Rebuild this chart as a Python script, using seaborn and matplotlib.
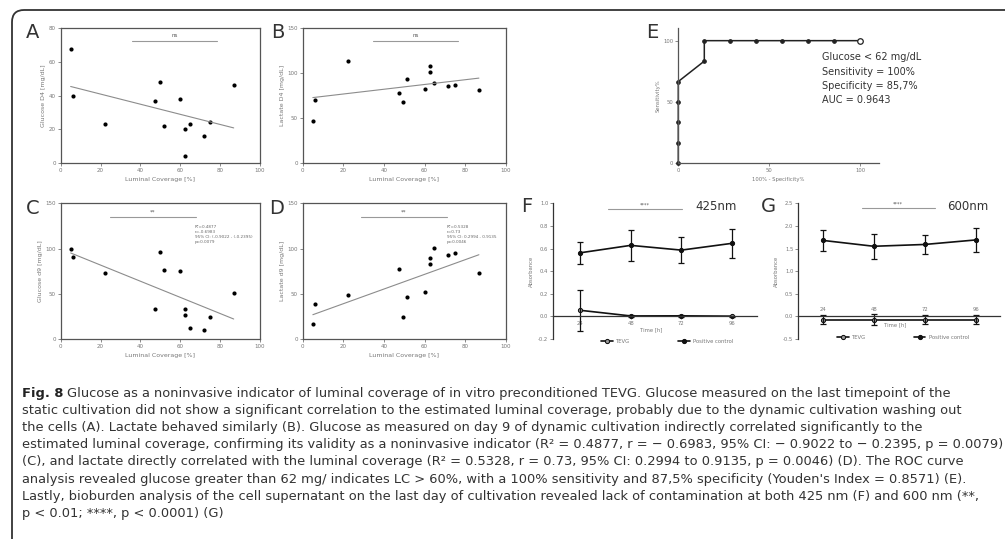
import numpy as np
import matplotlib
matplotlib.use("Agg")
import matplotlib.pyplot as plt
import seaborn as sns
from matplotlib.patches import FancyBboxPatch
from matplotlib.font_manager import FontProperties, findfont

# values
coverage = [5.0, 6.0, 22.4, 47.5, 49.6, 51.6, 60.0, 62.6, 62.6, 64.8, 71.8, 75.0, 86.8]
glucose_d4 = [67.8, 39.9, 23.1, 36.9, 48.0, 22.1, 37.9, 20.1, 4.0, 23.1, 16.2, 24.1, 46.0]
lactate_d4 = [47.0, 70.4, 113.0, 77.8, 68.1, 93.0, 82.6, 108.1, 101.5, 88.9, 85.6, 86.7, 81.1]
glucose_d9 = [99.3, 90.7, 72.9, 33.1, 96.7, 76.6, 74.7, 33.1, 26.4, 12.6, 9.7, 23.8, 50.6]
lactate_d9 = [16.4, 38.7, 48.7, 77.0, 23.8, 46.5, 51.7, 89.6, 82.5, 100.7, 92.6, 94.8, 72.9]

roc_fpr = [0, 0, 0, 0, 0, 14.29, 14.29, 28.57, 42.86, 57.14, 71.43, 85.71, 100]
roc_sens = [0, 16.67, 33.33, 50, 66.67, 83.33, 100, 100, 100, 100, 100, 100, 100]

time_h = [24, 48, 72, 96]
f_pos_mean = [0.562, 0.628, 0.586, 0.646]
f_pos_sd = [0.10, 0.14, 0.115, 0.13]
f_tevg_mean = [0.054, 0.004, 0.005, 0.002]
f_tevg_sd = [0.18, 0.01, 0.01, 0.005]
g_pos_mean = [1.68, 1.55, 1.59, 1.69]
g_pos_sd = [0.23, 0.28, 0.20, 0.26]
g_tevg_mean = [-0.07, -0.07, -0.07, -0.07]
g_tevg_sd = [0.10, 0.12, 0.10, 0.10]

roc_text = ["Glucose < 62 mg/dL", "Sensitivity = 100%", "Specificity = 85,7%", "AUC = 0.9643"]
stats_c = ["R²=0.4877", "r=-0.6983", "95% CI: (-0.9022 - (-0.2395)", "p=0.0079"]
stats_d = ["R²=0.5328", "r=0.73", "95% CI: 0.2994 - 0.9135", "p=0.0046"]

caption = [
    "Glucose as a noninvasive indicator of luminal coverage of in vitro preconditioned TEVG. Glucose measured on the last timepoint of the",
    "static cultivation did not show a significant correlation to the estimated luminal coverage, probably due to the dynamic cultivation washing out",
    "the cells (A). Lactate behaved similarly (B). Glucose as measured on day 9 of dynamic cultivation indirectly correlated significantly to the",
    "estimated luminal coverage, confirming its validity as a noninvasive indicator (R² = 0.4877, r = − 0.6983, 95% CI: − 0.9022 to − 0.2395, p = 0.0079)",
    "(C), and lactate directly correlated with the luminal coverage (R² = 0.5328, r = 0.73, 95% CI: 0.2994 to 0.9135, p = 0.0046) (D). The ROC curve",
    "analysis revealed glucose greater than 62 mg/ indicates LC > 60%, with a 100% sensitivity and 87,5% specificity (Youden's Index = 0.8571) (E).",
    "Lastly, bioburden analysis of the cell supernatant on the last day of cultivation revealed lack of contamination at both 425 nm (F) and 600 nm (**,",
    "p < 0.01; ****, p < 0.0001) (G)",
]

sns.set_theme(style="white")
plt.rcParams['font.family'] = ['DejaVu Sans']
plt.rcParams['axes.unicode_minus'] = False

W, H = 1005, 539
fig = plt.figure(figsize=(W / 100, H / 100), dpi=100)


def rect(l, t, r, b):
    return [l / W, 1 - b / H, (r - l) / W, (b - t) / H]


def px(x, y):
    return x / W, 1 - y / H


GREY = "#777777"


def ticks(ax, size=4):
    ax.tick_params(length=2.5, width=0.6, colors=GREY, labelsize=size, pad=1,
                   direction='out', bottom=True, left=True)


def scatter_panel(box, y, ylim, yticks, ylabel, bar, sig):
    ax = fig.add_axes(rect(*box))
    sns.regplot(x=coverage, y=y, ax=ax, ci=None, scatter=False,
                color="#8c8c8c", line_kws={"lw": 0.8})
    sns.scatterplot(x=coverage, y=y, ax=ax, color="black", s=9, linewidth=0)
    ax.set_xlim(0, 100)
    ax.set_ylim(*ylim)
    ax.set_xticks(range(0, 101, 20))
    ax.set_yticks(yticks)
    ticks(ax)
    for s in ax.spines.values():
        s.set_color("#555555")
        s.set_linewidth(0.9)
    ax.set_xlabel("Luminal Coverage [%]", fontsize=4.5, color=GREY, labelpad=3)
    ax.set_ylabel(ylabel, fontsize=4.5, color=GREY, labelpad=2)
    ax.plot(bar[:2], [bar[2]] * 2, transform=ax.transAxes, color="#999999", lw=0.8)
    ax.text(np.mean(bar[:2]), bar[2] + 0.02, sig, transform=ax.transAxes,
            ha='center', va='bottom', fontsize=4, color="#555555")
    return ax


scatter_panel((60.7, 28, 260, 163), glucose_d4, (0, 80), range(0, 81, 20),
              "Glucose D4 [mg/dL]", (0.358, 0.784, 0.906), "ns")
scatter_panel((302.7, 28, 505.7, 163), lactate_d4, (0, 150), range(0, 151, 50),
              "Lactate D4 [mg/dL]", (0.345, 0.766, 0.906), "ns")
axC = scatter_panel((60.7, 203.3, 260, 339), glucose_d9, (0, 150), range(0, 151, 50),
                    "Glucose d9 [mg/dL]", (0.247, 0.679, 0.897), "**")
axD = scatter_panel((302.7, 203.3, 505.7, 339), lactate_d9, (0, 150), range(0, 151, 50),
                    "Lactate d9 [mg/dL]", (0.286, 0.709, 0.897), "**")
axC.text(0.674, 0.84, "\n".join(stats_c), transform=axC.transAxes, fontsize=3,
         color="#666666", va='top', linespacing=1.3)
axD.text(0.709, 0.84, "\n".join(stats_d), transform=axD.transAxes, fontsize=3,
         color="#666666", va='top', linespacing=1.3)

# E: ROC curve
axE = fig.add_axes(rect(678.3, 28.4, 878.5, 163.3))
sns.lineplot(x=roc_fpr, y=roc_sens, ax=axE, estimator=None, sort=False,
             marker='o', markersize=2.6, color="#222222", lw=1.1,
             markeredgecolor="#222222")
sns.scatterplot(x=roc_fpr[-1:], y=roc_sens[-1:], ax=axE, marker='o', s=16,
                facecolor='white', edgecolor="#222222", linewidth=0.9, zorder=5)
for art in axE.lines + axE.collections:
    art.set_clip_on(False)
axE.set_xlim(0, 110)
axE.set_ylim(0, 110)
axE.set_xticks([0, 50, 100])
axE.set_yticks([0, 50, 100])
ticks(axE, 3.8)
sns.despine(ax=axE)
for s in ("left", "bottom"):
    axE.spines[s].set_color("#555555")
    axE.spines[s].set_linewidth(0.9)
axE.set_xlabel("100% - Specificity%", fontsize=3.8, color=GREY, labelpad=3)
axE.set_ylabel("Sensitivity%", fontsize=3.8, color=GREY, labelpad=2)
for i, line in enumerate(roc_text):
    fig.text(*px(821.7, 57.5 + 14.3 * i), line, fontsize=7, color="#333333", va='center')


def absorb_panel(box, xlim, ylim, yticks, pos_m, pos_sd, tev_m, tev_sd,
                 bar, sig, wave, legend_xy, labels_above):
    ax = fig.add_axes(rect(*box))
    for m, sd, mk, fc, name in ((tev_m, tev_sd, 'o', '#9a9a9a', 'TEVG'),
                                (pos_m, pos_sd, 'o', '#111111', 'Positive control')):
        sns.lineplot(x=time_h, y=m, ax=ax, estimator=None, marker=mk, markersize=3,
                     color="#111111", markerfacecolor=fc, markeredgecolor="#111111",
                     lw=1.2, label=name)
        ax.errorbar(time_h, m, yerr=sd, fmt='none', ecolor="#111111",
                    elinewidth=0.9, capsize=2, capthick=0.9)
    ax.set_xlim(*xlim)
    ax.set_ylim(*ylim)
    ax.set_xticks(time_h)
    ax.set_yticks(yticks)
    ax.set_yticklabels([f"{v:.1f}" for v in yticks])
    ticks(ax, 3.8)
    sns.despine(ax=ax)
    ax.spines['bottom'].set_position(('data', 0))
    for s in ("left", "bottom"):
        ax.spines[s].set_color("#333333")
        ax.spines[s].set_linewidth(0.9)
    if labels_above:
        ax.tick_params(axis='x', pad=-9)
    ax.set_xlabel("Time [h]", fontsize=3.8, color=GREY)
    ax.xaxis.set_label_coords(0.48, 0.12 if labels_above else 0.085)
    ax.set_ylabel("Absorbance", fontsize=3.8, color=GREY, labelpad=3)
    ax.plot(bar[:2], [bar[2]] * 2, transform=ax.transAxes, color="#999999", lw=0.8,
            clip_on=False)
    ax.text(np.mean(bar[:2]), bar[2] + 0.012, sig, transform=ax.transAxes,
            ha='center', va='bottom', fontsize=3.5, color="#555555")
    ax.text(wave[0], wave[1], wave[2], transform=ax.transAxes, ha='center',
            va='center', fontsize=8.5, color="#333333")
    ax.legend(loc='center', bbox_to_anchor=legend_xy, ncol=2, frameon=False,
              fontsize=3.8, columnspacing=9, handlelength=2.2, handletextpad=0.6,
              labelcolor=GREY)
    return ax


absorb_panel((553.3, 203.3, 756.7, 339), (11.35, 107.7), (-0.2, 1.0),
             np.round(np.arange(-0.2, 1.01, 0.2), 1), f_pos_mean, f_pos_sd,
             f_tevg_mean, f_tevg_sd, (0.269, 0.631, 0.956), "****",
             (0.80, 0.975, "425nm"), (0.56, -0.02), False)
absorb_panel((798.3, 203.3, 1000, 339), (12.5, 107.4), (-0.5, 2.5),
             np.round(np.arange(-0.5, 2.51, 0.5), 1), g_pos_mean, g_pos_sd,
             g_tevg_mean, g_tevg_sd, (0.314, 0.678, 0.967), "****",
             (0.841, 0.975, "600nm"), (0.52, 0.01), True)

# panel letters
for letter, x, y in (("A", 33, 33), ("B", 278, 33), ("C", 33, 208), ("D", 277, 208),
                     ("E", 652, 32), ("F", 527, 207), ("G", 768, 207)):
    fig.text(*px(x, y), letter, fontsize=14, color="#333333", ha='center', va='center')

# outer rounded frame (right edge lies outside the picture)
frame = FancyBboxPatch(px(12, 600), (1040 - 12) / W, (600 - 10) / H,
                       boxstyle="round,pad=0,rounding_size=0.012",
                       transform=fig.transFigure, fill=False,
                       edgecolor="#333333", lw=1.3, mutation_aspect=W / H)
fig.add_artist(frame)

# caption
try:
    findfont(FontProperties(family='Liberation Sans Narrow'), fallback_to_default=False)
    cap_family = ['Liberation Sans Narrow', 'DejaVu Sans']
except ValueError:
    cap_family = ['DejaVu Sans']

renderer = fig.canvas.get_renderer()
widths = []
for i, line in enumerate(caption):
    probe = fig.text(0, 0, ("Fig. 8 " if i == 0 else "") + line, fontsize=10, family=cap_family)
    widths.append(probe.get_window_extent(renderer).width)
    probe.remove()
cap_size = 10 * (997 - 22) / max(widths)

y0, dy = 393, 17.25
bold = fig.text(*px(22, y0), "Fig. 8", fontsize=cap_size, family=cap_family,
                weight='bold', color="#222222", va='center')
wb = bold.get_window_extent(renderer).width
fig.text(*px(22 + wb + cap_size * 0.4, y0), caption[0], fontsize=cap_size,
         family=cap_family, color="#333333", va='center')
for i, line in enumerate(caption[1:], start=1):
    fig.text(*px(22, y0 + dy * i), line, fontsize=cap_size, family=cap_family,
             color="#333333", va='center')

fig.savefig("out.png", dpi=100)
